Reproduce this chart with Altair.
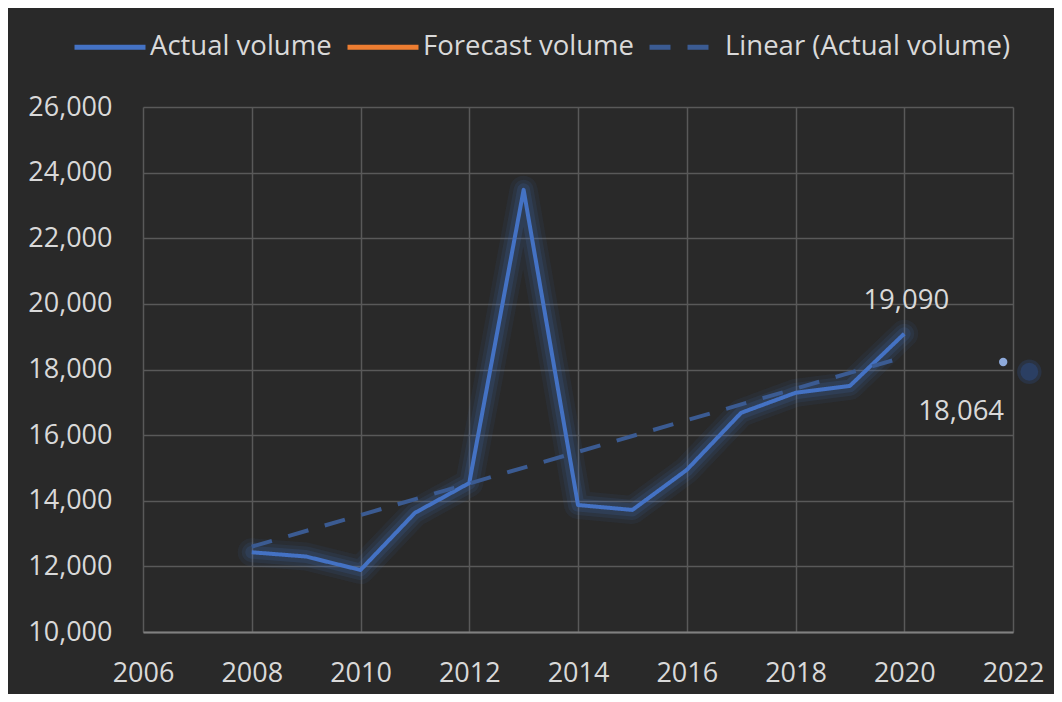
import altair as alt
import pandas as pd

# ---- data ----
years = [2008, 2009, 2010, 2011, 2012, 2013, 2014, 2015, 2016, 2017, 2018, 2019, 2020]
actual = [12430, 12300, 11890, 13630, 14540, 23475, 13870, 13720, 14940, 16680, 17290, 17500, 19090]

trend_years = [2008, 2020]
trend_values = [12600, 18380]

forecast_year = [2021.82]
forecast_value = [18230]
forecast_text = ["18,064"]

glow_year = [2022.3]
glow_value = [17930]

last_label_year = [2020]
last_label_value = [19090]
last_label_text = ["19,090"]

series_names = ["Actual volume", "Forecast volume", "Linear (Actual volume)"]
series_colors = ["#4472c4", "#ed7d31", "#3b5b92"]
series_dash = [[1, 0], [1, 0], [21, 17]]

x_ticks = list(range(2006, 2023, 2))
y_ticks = list(range(10000, 26001, 2000))

TEXT = "#d9d9d9"
FONT = "Open Sans"

# ---- tables ----
df_actual = pd.DataFrame({"year": years, "value": actual, "series": series_names[0]})
df_fore = pd.DataFrame({"year": forecast_year, "value": forecast_value, "series": series_names[1]})
df_trend = pd.DataFrame({"year": trend_years, "value": trend_values, "series": series_names[2]})
df_lines = pd.concat([df_actual, df_fore, df_trend], ignore_index=True)

df_fpoint = pd.DataFrame({"year": forecast_year, "value": forecast_value, "label": forecast_text})
df_glow = pd.DataFrame({"year": glow_year, "value": glow_value})
df_last = pd.DataFrame({"year": last_label_year, "value": last_label_value, "label": last_label_text})

x_enc = alt.X("year:Q",
              scale=alt.Scale(domain=[2006, 2022], nice=False, zero=False),
              axis=alt.Axis(values=x_ticks, format="d", title=None, labelFlush=False,
                            labelOverlap=False, labelBound=False))
y_enc = alt.Y("value:Q",
              scale=alt.Scale(domain=[10000, 26000], nice=False, zero=False),
              axis=alt.Axis(values=y_ticks, format=",d", title=None))

# glow under actual line
glow_layers = [
    alt.Chart(df_actual).mark_line(color="#4472c4", strokeWidth=w, opacity=o,
                                   strokeJoin="round", strokeCap="round")
    .encode(x=x_enc, y=y_enc, order="year:Q")
    for w, o in [(28, 0.08), (20, 0.10), (13, 0.15)]
]

lines = alt.Chart(df_lines).mark_line(strokeWidth=4, strokeJoin="round").encode(
    x=x_enc, y=y_enc,
    color=alt.Color("series:N",
                    scale=alt.Scale(domain=series_names, range=series_colors),
                    legend=alt.Legend(orient="none", legendX=-71, legendY=-98,
                                      direction="horizontal", title=None)),
    strokeDash=alt.StrokeDash("series:N",
                              scale=alt.Scale(domain=series_names, range=series_dash),
                              legend=alt.Legend(orient="none", legendX=-71, legendY=-98,
                                                direction="horizontal", title=None)),
    order="year:Q",
)

glow_dot = alt.layer(
    alt.Chart(df_glow).mark_circle(color="#2f55a0", size=600, opacity=0.22).encode(x=x_enc, y=y_enc),
    alt.Chart(df_glow).mark_circle(color="#2f55a0", size=320, opacity=0.35).encode(x=x_enc, y=y_enc),
)

fpoint = alt.Chart(df_fpoint).mark_circle(color="#8eaadb", size=70, opacity=1).encode(x=x_enc, y=y_enc)

flabel = alt.Chart(df_fpoint).mark_text(font=FONT, fontSize=27.5, color=TEXT, dx=-42, dy=50,
                                        align="center", baseline="middle").encode(
    x=x_enc, y=y_enc, text="label:N")

last_label = alt.Chart(df_last).mark_text(font=FONT, fontSize=27.5, color=TEXT, dx=2, dy=-33,
                                          align="center", baseline="middle").encode(
    x=x_enc, y=y_enc, text="label:N")

chart = alt.layer(*glow_layers, lines, glow_dot, fpoint, flabel, last_label).properties(
    width=870, height=525,
    autosize=alt.AutoSizeParams(type="none"),
    padding={"left": 135, "top": 99, "right": 41, "bottom": 62},
    background="#292929",
).configure_view(stroke=None).configure_axis(
    labelFont=FONT, labelFontSize=27, labelColor=TEXT,
    gridColor="#595959", gridWidth=1.5,
    ticks=False, tickSize=0, domain=False,
).configure_axisX(
    domain=True, domainColor="#808080", domainWidth=2, labelPadding=28,
).configure_axisY(
    labelPadding=31,
).configure_legend(
    symbolType="stroke", symbolSize=5041, symbolStrokeWidth=5,
    labelFont=FONT, labelFontSize=27.5, labelColor=TEXT,
    labelOffset=2, columnPadding=5, padding=0, labelLimit=0,
)

chart.save("out.html", embed_options={"renderer": "svg", "actions": False})
